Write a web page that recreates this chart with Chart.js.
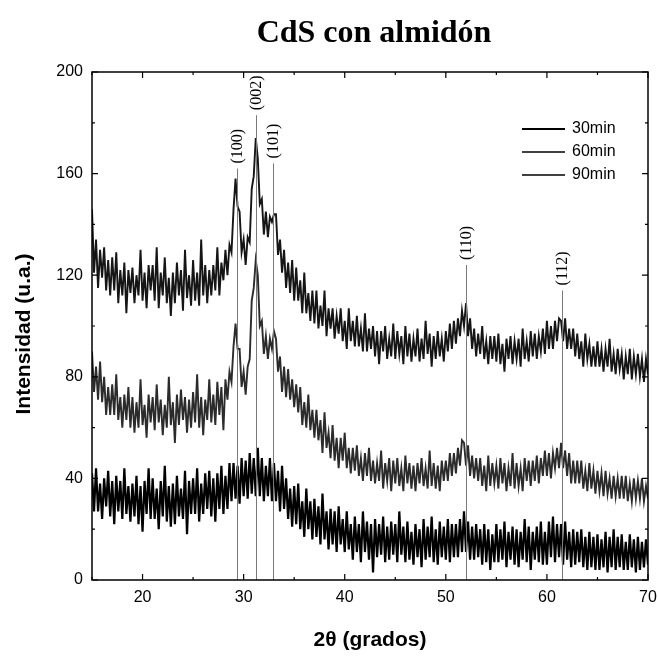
<!DOCTYPE html>
<html>
<head>
<meta charset="utf-8">
<script src="https://cdn.jsdelivr.net/npm/chart.js@4.4.1/dist/chart.umd.min.js"></script>
<style>
  body { margin: 0; background: #fff; }
  canvas { display: block; }
</style>
</head>
<body>
<canvas id="xrdChart" width="658" height="656"></canvas>
<script>
// XRD patterns, CdS con almidón, sampled every 0.2 degrees from 15 to 70
const angleStart = 15;
const angleStep = 0.2;

const seriesLabels = ['30min', '60min', '90min'];

// bottom trace
const series30 = [
    42,27,44,27,38,24,40,29,43,25,
    39,22,41,27,39,24,44,26,37,23,
    38,25,41,22,37,19,39,26,44,24,
    40,24,36,20,39,25,45,23,37,21,
    38,22,41,25,36,24,43,18,39,26,
    40,26,44,23,38,26,42,28,43,25,
    40,23,42,28,45,26,41,28,46,31,
    46,32,45,30,48,33,47,32,50,34,
    48,33,52,33,48,31,45,33,48,31,
    46,31,43,27,45,28,40,24,36,21,
    37,22,38,20,31,17,36,20,31,16,
    32,17,29,14,34,16,27,12,28,14,
    27,11,29,14,24,11,27,12,22,8,
    25,11,22,7,27,11,23,8,22,3,
    24,9,22,10,25,7,21,8,23,10,
    22,7,27,10,21,7,23,8,19,6,
    22,9,20,5,24,8,21,9,25,7,
    20,6,23,9,21,8,24,7,22,9,
    22,9,24,11,27,11,23,8,21,8,
    22,9,20,6,22,7,20,4,18,7,
    22,7,20,8,23,5,19,8,21,6,
    20,5,19,8,24,7,21,4,19,8,
    21,7,23,6,19,6,23,9,25,7,
    22,9,22,6,23,8,19,5,20,6,
    19,7,20,5,17,4,19,5,17,4,
    18,4,16,5,19,3,17,5,20,4,
    17,5,18,4,15,4,18,5,16,3,
    17,4,15,5,16,6
];

// middle trace
const series60 = [
    90,74,84,71,86,70,80,65,76,65,
    77,65,81,63,72,60,73,63,76,60,
    72,58,70,60,79,61,69,56,73,62,
    72,59,77,62,71,57,69,60,80,61,
    70,54,73,61,75,63,72,58,71,60,
    74,62,81,60,72,57,71,63,79,62,
    73,61,78,65,76,59,79,71,82,78,
    92,101,91,91,76,82,73,84,87,110,
    115,126,120,100,102,89,96,87,95,91,
    98,95,82,88,74,84,72,83,71,79,
    68,77,66,76,61,70,60,73,59,67,
    56,67,55,63,50,66,52,58,48,61,
    47,56,44,56,47,58,44,52,42,52,
    43,53,41,48,39,50,41,52,39,47,
    38,46,39,51,36,46,39,48,35,47,
    38,48,37,44,35,49,38,46,36,45,
    35,46,38,48,37,44,36,51,37,46,
    36,45,35,47,39,47,39,50,41,50,
    42,52,45,55,54,45,53,41,49,40,
    48,39,48,37,45,35,49,37,46,38,
    45,36,48,38,46,35,44,37,50,36,
    46,37,44,35,48,39,47,37,47,39,
    49,38,48,41,51,41,50,40,50,44,
    52,44,54,44,51,41,50,38,47,38,
    47,38,47,36,43,35,46,36,43,34,
    43,35,42,33,43,34,40,32,41,33,
    40,32,41,32,41,31,38,31,40,32,
    39,32,40,31,37,32
];

// top trace
const series90 = [
    146,121,134,115,130,119,131,114,126,112,
    127,114,129,109,122,112,125,105,122,113,
    123,109,120,112,130,110,121,107,124,114,
    124,110,131,107,121,112,127,109,119,104,
    121,109,125,112,122,106,130,111,120,108,
    126,110,121,108,134,112,124,109,122,112,
    124,114,131,112,125,118,130,120,132,129,
    146,158,147,145,129,134,124,135,133,154,
    159,174,166,148,150,136,145,135,143,141,
    144,144,128,134,121,130,115,125,113,126,
    110,123,110,118,105,121,105,113,102,114,
    101,114,99,108,100,114,96,107,99,107,
    95,104,97,107,94,102,91,107,94,102,
    92,104,92,99,90,105,90,99,91,100,
    88,98,85,98,90,100,87,95,88,101,
    87,98,89,96,85,100,88,97,86,95,
    88,99,86,95,87,102,89,97,84,96,
    87,98,88,95,86,98,90,101,91,102,
    93,103,96,106,100,109,96,103,91,99,
    88,97,89,100,87,94,85,96,87,96,
    86,97,85,93,82,95,87,96,85,94,
    87,95,84,99,87,94,86,98,88,97,
    87,96,90,99,89,102,91,100,91,102,
    94,103,102,94,103,91,99,91,99,88,
    97,87,94,84,97,87,93,84,92,84,
    94,84,91,82,91,84,95,82,89,81,
    91,83,89,79,88,81,91,79,88,81,
    89,80,87,78,87,81
];

// reflections (hkl) and where their marker lines start
const peakAngles = [29.33, 31.2, 32.95, 51.95, 61.5];
const peakHeights = [162, 183, 164, 124, 114];
const peakNames = ['(100)', '(002)', '(101)', '(110)', '(112)'];

const xTicks = [20, 30, 40, 50, 60, 70];
const yTicks = [0, 40, 80, 120, 160, 200];

function toPoints(values) {
    return values.map((v, i) => ({ x: angleStart + i * angleStep, y: v }));
}

const sans = '"Liberation Sans", Arial, sans-serif';
const serif = '"Liberation Serif", "Times New Roman", serif';

// peak markers, frame, ticks, legend and titles
const decorPlugin = {
    id: 'decor',
    afterDatasetsDraw(chart) {
        const ctx = chart.ctx;
        const xs = chart.scales.x, ys = chart.scales.y;
        const area = chart.chartArea;
        ctx.save();
        ctx.strokeStyle = '#7a7a7a';
        ctx.lineWidth = 1;
        ctx.fillStyle = '#000';
        ctx.font = '16px ' + serif;
        ctx.textAlign = 'left';
        ctx.textBaseline = 'middle';
        peakAngles.forEach((a, i) => {
            const px = Math.round(xs.getPixelForValue(a)) + 0.5;
            const top = ys.getPixelForValue(peakHeights[i]);
            ctx.beginPath();
            ctx.moveTo(px, top);
            ctx.lineTo(px, area.bottom);
            ctx.stroke();
            ctx.save();
            ctx.translate(px, top - 5);
            ctx.rotate(-Math.PI / 2);
            ctx.fillText(peakNames[i], 0, 0);
            ctx.restore();
        });
        ctx.restore();
    },
    afterDraw(chart) {
        const ctx = chart.ctx;
        const xs = chart.scales.x, ys = chart.scales.y;
        const a = chart.chartArea;
        ctx.save();
        ctx.strokeStyle = '#000';
        ctx.lineWidth = 1.5;
        ctx.strokeRect(a.left, a.top, a.right - a.left, a.bottom - a.top);

        // inward ticks on all four sides
        ctx.lineWidth = 1.2;
        ctx.beginPath();
        for (let v = 15; v <= 70; v += 5) {
            const px = xs.getPixelForValue(v);
            const len = v % 10 === 0 ? 6 : 3;
            ctx.moveTo(px, a.bottom); ctx.lineTo(px, a.bottom - len);
            ctx.moveTo(px, a.top); ctx.lineTo(px, a.top + len);
        }
        for (let v = 0; v <= 200; v += 20) {
            const py = ys.getPixelForValue(v);
            const len = v % 40 === 0 ? 6 : 3;
            ctx.moveTo(a.left, py); ctx.lineTo(a.left + len, py);
            ctx.moveTo(a.right, py); ctx.lineTo(a.right - len, py);
        }
        ctx.stroke();

        // legend
        ctx.font = '16px ' + sans;
        ctx.fillStyle = '#000';
        ctx.textAlign = 'left';
        ctx.textBaseline = 'middle';
        chart.data.datasets.forEach((ds, i) => {
            const y = 129 + i * 23;
            ctx.lineWidth = i === 0 ? 2.2 : 1.3;
            ctx.beginPath();
            ctx.moveTo(522, y);
            ctx.lineTo(565, y);
            ctx.stroke();
            ctx.fillText(ds.label, 572, y);
        });

        // titles
        ctx.textAlign = 'center';
        ctx.font = 'bold 32px ' + serif;
        ctx.fillText('CdS con almidón', 374, 34);
        ctx.font = 'bold 21px ' + sans;
        ctx.fillText('2θ (grados)', 370, 640);
        ctx.save();
        ctx.translate(24, (a.top + a.bottom) / 2 + 8);
        ctx.rotate(-Math.PI / 2);
        ctx.fillText('Intensidad (u.a.)', 0, 0);
        ctx.restore();
        ctx.restore();
    }
};

const ctx = document.getElementById('xrdChart').getContext('2d');
const xrdChart = new Chart(ctx, {
    type: 'line',
    data: {
        datasets: [
            { label: seriesLabels[0], data: toPoints(series30), borderColor: '#000', borderWidth: 2.2 },
            { label: seriesLabels[1], data: toPoints(series60), borderColor: '#2b2b2b', borderWidth: 1.9 },
            { label: seriesLabels[2], data: toPoints(series90), borderColor: '#151515', borderWidth: 1.9 }
        ]
    },
    options: {
        responsive: false,
        animation: false,
        layout: { padding: { left: 0, right: 10, top: 72, bottom: 0 } },
        elements: { point: { radius: 0 }, line: { tension: 0, borderJoinStyle: 'miter' } },
        plugins: {
            legend: { display: false },
            tooltip: { enabled: false }
        },
        scales: {
            x: {
                type: 'linear',
                min: 15,
                max: 70,
                grid: { display: false, drawTicks: false },
                border: { display: false },
                ticks: { color: '#000', font: { size: 16, family: sans }, padding: 8, maxRotation: 0 },
                afterBuildTicks: s => { s.ticks = xTicks.map(v => ({ value: v })); },
                afterFit: s => { s.height = 76; s.paddingLeft = 0; s.paddingRight = 0; }
            },
            y: {
                min: 0,
                max: 200,
                grid: { display: false, drawTicks: false },
                border: { display: false },
                ticks: { color: '#000', font: { size: 16, family: sans }, padding: 9 },
                afterBuildTicks: s => { s.ticks = yTicks.map(v => ({ value: v })); },
                afterFit: s => { s.width = 92; s.paddingTop = 0; s.paddingBottom = 0; }
            }
        }
    },
    plugins: [decorPlugin]
});
</script>
</body>
</html>
